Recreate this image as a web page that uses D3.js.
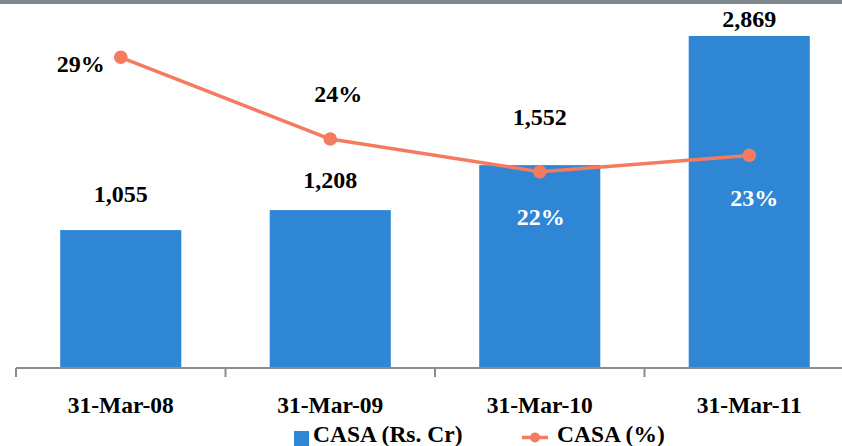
<!DOCTYPE html>
<html>
<head>
<meta charset="utf-8">
<script src="https://cdn.jsdelivr.net/npm/d3@7/dist/d3.min.js"></script>
<style>
  html, body { margin: 0; padding: 0; background: #fff; }
  svg { display: block; }
</style>
</head>
<body>
<svg id="chart" width="842" height="446"></svg>
<script>
// Data
const categories = ["31-Mar-08", "31-Mar-09", "31-Mar-10", "31-Mar-11"];
const casaAmount = [1055, 1208, 1552, 2869];      // CASA (Rs. Cr)
const casaShare = [0.29, 0.24, 0.22, 0.23];       // CASA (%)
const seriesNames = ["CASA (Rs. Cr)", "CASA (%)"];

// Label placement tweaks (pixels): lift of amount labels above bar tops,
// and offsets of the percentage labels from their points.
const amountLabelLift = [28, 22, 40, 9];
const shareLabelOffset = [
  { dx: -40, dy: 15, light: false },
  { dx: 8, dy: -37, light: false },
  { dx: 1, dy: 53, light: true },
  { dx: 5, dy: 51, light: true }
];

const W = 842, H = 446;
const BLUE = "#2E86D5", LINE = "#F47A60", GRID = "#8C8C8C";
const FONT = "'Liberation Serif', Tinos, 'Times New Roman', Times, serif";

const svg = d3.select("#chart");

// all labels share one bold serif face
function label(sel, size) {
  return sel.attr("font-family", FONT).style("font-family", FONT)
    .attr("font-weight", "bold").attr("font-size", size);
}

// top band
svg.append("rect").attr("x", 0).attr("y", 0).attr("width", W).attr("height", 4).attr("fill", "#7F898D");

const plot = { left: 16, right: 854, top: 36, bottom: 368 };

const x = d3.scaleBand().domain(categories).range([plot.left, plot.right]).paddingInner(0.422).paddingOuter(0.211);
const yAmt = d3.scaleLinear().domain([0, 2540]).range([plot.bottom, plot.top]).clamp(true);
const yPct = d3.scaleLinear().domain([0.10, 0.303]).range([plot.bottom, plot.top]);
const fmtAmt = d3.format(",");
const fmtPct = d3.format(".0%");

// bars
svg.append("g").selectAll("rect").data(casaAmount).join("rect")
  .attr("x", (d, i) => x(categories[i]))
  .attr("y", d => yAmt(d))
  .attr("width", x.bandwidth())
  .attr("height", d => plot.bottom - yAmt(d))
  .attr("fill", BLUE);

// x axis: baseline, boundary ticks and category labels
const step = x.step();
const axis = svg.append("g");
axis.append("line")
  .attr("x1", plot.left).attr("x2", W).attr("y1", plot.bottom).attr("y2", plot.bottom)
  .attr("stroke", GRID).attr("stroke-width", 2);
axis.selectAll("line.tick").data(categories).join("line").attr("class", "tick")
  .attr("x1", d => x(d) - x.paddingOuter() * step)
  .attr("x2", d => x(d) - x.paddingOuter() * step)
  .attr("y1", plot.bottom).attr("y2", plot.bottom + 9)
  .attr("stroke", GRID).attr("stroke-width", 2);
label(axis.selectAll("text").data(categories).join("text"), 23.5)
  .attr("x", d => x(d) + x.bandwidth() / 2)
  .attr("y", 413)
  .attr("text-anchor", "middle")
  .attr("fill", "#000")
  .text(d => d);

// amount labels
label(svg.append("g").selectAll("text").data(casaAmount).join("text"), 24)
  .attr("x", (d, i) => x(categories[i]) + x.bandwidth() / 2)
  .attr("y", (d, i) => yAmt(d) - amountLabelLift[i])
  .attr("text-anchor", "middle")
  .attr("fill", "#000")
  .text(d => fmtAmt(d));

// share line
const cx = i => x(categories[i]) + x.bandwidth() / 2;
const line = d3.line().x((d, i) => cx(i)).y(d => yPct(d));
svg.append("path").datum(casaShare)
  .attr("d", line).attr("fill", "none")
  .attr("stroke", LINE).attr("stroke-width", 3.5).attr("stroke-linejoin", "round");
svg.append("g").selectAll("circle").data(casaShare).join("circle")
  .attr("cx", (d, i) => cx(i)).attr("cy", d => yPct(d)).attr("r", 6.8)
  .attr("fill", LINE);

// share labels
label(svg.append("g").selectAll("text").data(casaShare).join("text"), 24)
  .attr("x", (d, i) => cx(i) + shareLabelOffset[i].dx)
  .attr("y", (d, i) => yPct(d) + shareLabelOffset[i].dy)
  .attr("text-anchor", "middle")
  .attr("fill", (d, i) => shareLabelOffset[i].light ? "#fff" : "#000")
  .text(d => fmtPct(d));

// legend
const lg = svg.append("g");
lg.append("rect").attr("x", 294).attr("y", 431).attr("width", 15).attr("height", 15).attr("fill", BLUE);
label(lg.append("text"), 23.5).attr("x", 313).attr("y", 442).attr("fill", "#000").text(seriesNames[0]);
lg.append("line").attr("x1", 522).attr("x2", 548).attr("y1", 437.5).attr("y2", 437.5)
  .attr("stroke", LINE).attr("stroke-width", 3.5);
lg.append("circle").attr("cx", 535).attr("cy", 437.5).attr("r", 5).attr("fill", LINE);
label(lg.append("text"), 23.5).attr("x", 557).attr("y", 442).attr("fill", "#000").text(seriesNames[1]);
</script>
</body>
</html>
